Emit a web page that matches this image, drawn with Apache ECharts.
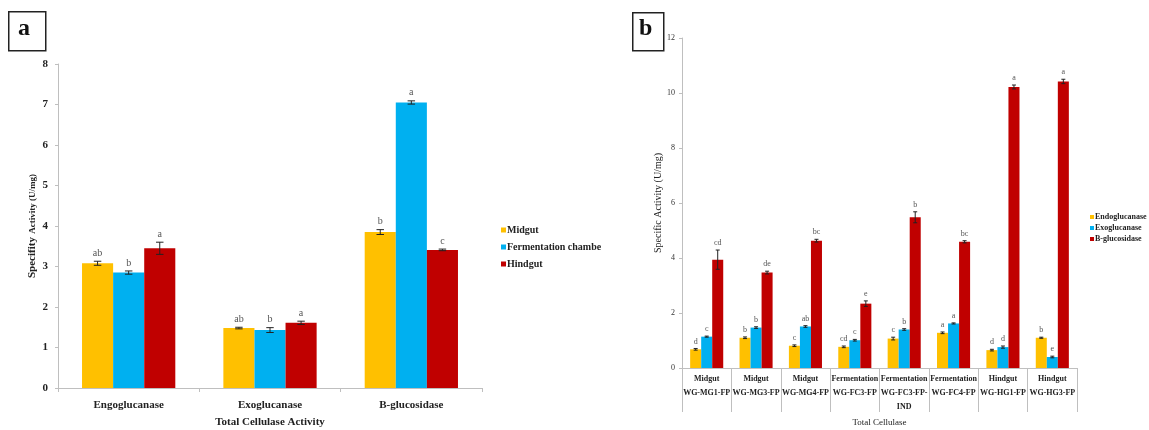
<!DOCTYPE html>
<html>
<head>
<meta charset="utf-8">
<script src="https://cdn.jsdelivr.net/npm/echarts@6/dist/echarts.min.js"></script>
<style>html,body{margin:0;padding:0;background:#fff;}#c{width:1149px;height:430px;}</style>
</head>
<body>
<div id="c"></div>
<script>
// ---------- Panel a data ----------
const catA = ['Engoglucanase', 'Exoglucanase', 'B-glucosidase'];
const seriesNamesA = ['Midgut', 'Fermentation chambe', 'Hindgut'];
const midgutA = [3.08, 1.48, 3.85];
const fermA = [2.85, 1.43, 7.05];
const hindA = [3.45, 1.61, 3.41];
const midgutErrA = [0.05, 0.02, 0.06];
const fermErrA = [0.04, 0.06, 0.04];
const hindErrA = [0.15, 0.04, 0.02];
const midgutLetA = ['ab', 'ab', 'b'];
const fermLetA = ['b', 'b', 'a'];
const hindLetA = ['a', 'a', 'c'];
const ticksA = [0, 1, 2, 3, 4, 5, 6, 7, 8];

// ---------- Panel b data ----------
const groupsB = ['Midgut', 'Midgut', 'Midgut', 'Fermentation', 'Fermentation', 'Fermentation', 'Hindgut', 'Hindgut'];
const isolatesB = ['WG-MG1-FP', 'WG-MG3-FP', 'WG-MG4-FP', 'WG-FC3-FP', 'WG-FC3-FP-\nIND', 'WG-FC4-FP', 'WG-HG1-FP', 'WG-HG3-FP'];
const seriesNamesB = ['Endoglucanase', 'Exoglucanase', 'B-glucosidase'];
const endoB = [0.68, 1.10, 0.81, 0.77, 1.07, 1.28, 0.65, 1.10];
const exoB = [1.14, 1.47, 1.51, 1.01, 1.40, 1.62, 0.76, 0.40];
const bglucB = [3.94, 3.47, 4.63, 2.34, 5.48, 4.59, 10.22, 10.42];
const endoErrB = [0.03, 0.03, 0.03, 0.03, 0.05, 0.03, 0.03, 0.02];
const exoErrB = [0.02, 0.03, 0.03, 0.03, 0.03, 0.02, 0.04, 0.03];
const bglucErrB = [0.35, 0.05, 0.05, 0.10, 0.20, 0.04, 0.07, 0.08];
const endoLetB = ['d', 'b', 'c', 'cd', 'c', 'a', 'd', 'b'];
const exoLetB = ['c', 'b', 'ab', 'c', 'b', 'a', 'd', 'e'];
const bglucLetB = ['cd', 'de', 'bc', 'e', 'b', 'bc', 'a', 'a'];
const ticksB = [0, 2, 4, 6, 8, 10, 12];

const colors = ['#FFC000', '#00B0F0', '#C00000'];
const SERIF = '"Liberation Serif", "DejaVu Serif", serif';
const GAP_A = 0.34, GAP_B = 0.33;

function errSeries(name, xIdx, yIdx, vals, errs, lets, sIdx, gap, fontSize) {
  return {
    type: 'custom', name: name, xAxisIndex: xIdx, yAxisIndex: yIdx, z: 5,
    data: vals.map((v, i) => [i, v, errs[i], lets[i]]),
    encode: { x: 0, y: 1 },
    renderItem: function (params, api) {
      const ci = api.value(0), v = api.value(1), e = api.value(2), letter = lets[params.dataIndex];
      const catW = api.size([1, 0])[0];
      const bw = catW * (1 - gap) / 3;
      const base = api.coord([ci, v]);
      const x = base[0] + (sIdx - 1) * bw;
      const yTop = api.coord([ci, v + e])[1];
      const yBot = api.coord([ci, v - e])[1];
      const cap = Math.max(2, bw * 0.12);
      const st = { stroke: '#222', lineWidth: 1 };
      return {
        type: 'group', children: [
          { type: 'line', shape: { x1: x, y1: yTop, x2: x, y2: yBot }, style: st },
          { type: 'line', shape: { x1: x - cap, y1: yTop, x2: x + cap, y2: yTop }, style: st },
          { type: 'line', shape: { x1: x - cap, y1: yBot, x2: x + cap, y2: yBot }, style: st },
          { type: 'text', x: x, y: yTop - 3, style: { text: letter, fill: '#555', font: fontSize + 'px ' + SERIF, align: 'center', verticalAlign: 'bottom' } }
        ]
      };
    }
  };
}

const series = [];
[midgutA, fermA, hindA].forEach((d, i) => {
  series.push({ type: 'bar', name: seriesNamesA[i], xAxisIndex: 0, yAxisIndex: 0, data: d, barGap: '0%', barCategoryGap: (GAP_A * 100) + '%', itemStyle: { color: colors[i] } });
});
series.push(errSeries('errA0', 0, 0, midgutA, midgutErrA, midgutLetA, 0, GAP_A, 10));
series.push(errSeries('errA1', 0, 0, fermA, fermErrA, fermLetA, 1, GAP_A, 10));
series.push(errSeries('errA2', 0, 0, hindA, hindErrA, hindLetA, 2, GAP_A, 10));
[endoB, exoB, bglucB].forEach((d, i) => {
  series.push({ type: 'bar', name: seriesNamesB[i], xAxisIndex: 1, yAxisIndex: 1, data: d, barGap: '0%', barCategoryGap: (GAP_B * 100) + '%', itemStyle: { color: colors[i] } });
});
series.push(errSeries('errB0', 1, 1, endoB, endoErrB, endoLetB, 0, GAP_B, 8));
series.push(errSeries('errB1', 1, 1, exoB, exoErrB, exoLetB, 1, GAP_B, 8));
series.push(errSeries('errB2', 1, 1, bglucB, bglucErrB, bglucLetB, 2, GAP_B, 8));

const axisGray = '#bfbfbf';
const option = {
  animation: false,
  backgroundColor: '#fff',
  grid: [
    { left: 58, top: 64, width: 424, height: 324, containLabel: false, outerBoundsMode: 'none' },
    { left: 682, top: 38, width: 395, height: 330, containLabel: false, outerBoundsMode: 'none' }
  ],
  xAxis: [
    {
      type: 'category', gridIndex: 0, data: catA,
      axisLine: { lineStyle: { color: axisGray } },
      axisTick: { show: true, length: 4, lineStyle: { color: axisGray } },
      axisLabel: { color: '#222', fontFamily: SERIF, fontWeight: 'bold', fontSize: 11, margin: 12 },
      name: 'Total Cellulase Activity', nameLocation: 'middle', nameGap: 29,
      nameTextStyle: { color: '#222', fontFamily: SERIF, fontWeight: 'bold', fontSize: 11 }
    },
    {
      type: 'category', gridIndex: 1, data: isolatesB,
      axisLine: { lineStyle: { color: axisGray } },
      axisTick: { show: true, length: 44, interval: 0, lineStyle: { color: axisGray } },
      axisLabel: {
        interval: 0, margin: 3, color: '#222',
        formatter: function (val, idx) { return '{g|' + groupsB[idx] + '}\n{s|' + val.replace('\n', '}\n{s|') + '}'; },
        rich: {
          g: { fontFamily: SERIF, fontWeight: 'bold', fontSize: 8, lineHeight: 15, color: '#222' },
          s: { fontFamily: SERIF, fontWeight: 'bold', fontSize: 8, lineHeight: 14, color: '#222' }
        }
      },
      name: 'Total Cellulase', nameLocation: 'middle', nameGap: 50,
      nameTextStyle: { color: '#222', fontFamily: SERIF, fontSize: 9 }
    }
  ],
  yAxis: [
    {
      type: 'value', gridIndex: 0, min: 0, max: 8, interval: 1,
      axisLine: { show: true, lineStyle: { color: axisGray } },
      axisTick: { show: true, length: 3, lineStyle: { color: axisGray } },
      splitLine: { show: false },
      axisLabel: { color: '#222', fontFamily: SERIF, fontWeight: 'bold', fontSize: 11, margin: 10,
        formatter: v => ticksA.includes(v) ? String(v) : '' },
      name: '{a|Specifity} {b|Activity (U/mg)}', nameLocation: 'middle', nameGap: 19, nameRotate: 90,
      nameTextStyle: { rich: {
        a: { fontFamily: SERIF, fontWeight: 'bold', fontSize: 11, color: '#222' },
        b: { fontFamily: SERIF, fontWeight: 'bold', fontSize: 9, color: '#222' } } }
    },
    {
      type: 'value', gridIndex: 1, min: 0, max: 12, interval: 2,
      axisLine: { show: true, lineStyle: { color: axisGray } },
      axisTick: { show: true, length: 3, lineStyle: { color: axisGray } },
      splitLine: { show: false },
      axisLabel: { color: '#333', fontFamily: SERIF, fontSize: 8, margin: 7,
        formatter: v => ticksB.includes(v) ? String(v) : '' },
      name: 'Specific Activity (U/mg)', nameLocation: 'middle', nameGap: 18, nameRotate: 90,
      nameTextStyle: { fontFamily: SERIF, fontSize: 10, color: '#222' }
    }
  ],
  legend: [
    {
      data: seriesNamesA, orient: 'vertical', left: 496, top: 220, itemWidth: 5, itemHeight: 5, itemGap: 7, icon: 'rect',
      textStyle: { fontFamily: SERIF, fontWeight: 'bold', fontSize: 10, color: '#222', padding: [0, 0, 0, -4] }
    },
    {
      data: seriesNamesB, orient: 'vertical', left: 1085, top: 208, itemWidth: 4, itemHeight: 4, itemGap: 3, icon: 'rect',
      textStyle: { fontFamily: SERIF, fontWeight: 'bold', fontSize: 8, color: '#222', padding: [0, 0, 0, -4] }
    }
  ],
  graphic: [
    { type: 'rect', left: 8, top: 11, shape: { width: 37, height: 39 }, style: { fill: '#fff', stroke: '#222', lineWidth: 1.5 } },
    { type: 'text', left: 18, top: 17, style: { text: 'a', font: 'bold 24px ' + SERIF, fill: '#111' } },
    { type: 'rect', left: 632, top: 12, shape: { width: 31, height: 38 }, style: { fill: '#fff', stroke: '#222', lineWidth: 1.5 } },
    { type: 'text', left: 639, top: 17, style: { text: 'b', font: 'bold 24px ' + SERIF, fill: '#111' } }
  ],
  series: series
};
const chart = echarts.init(document.getElementById('c'), null, { renderer: 'canvas' });
chart.setOption(option);
</script>
</body>
</html>
